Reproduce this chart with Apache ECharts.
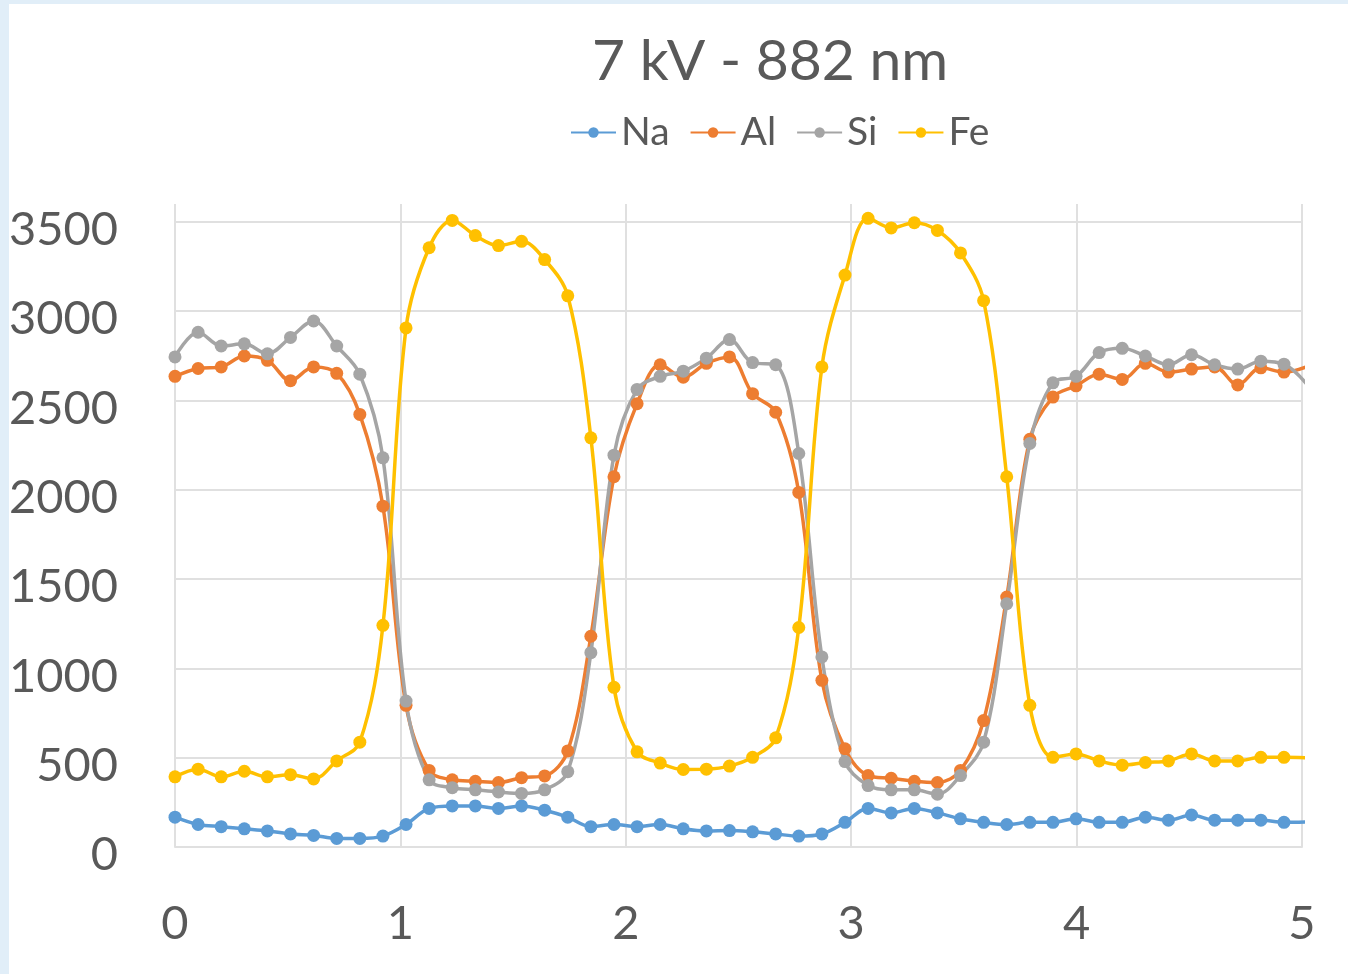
<!DOCTYPE html>
<html>
<head>
<meta charset="utf-8">
<script src="https://cdn.jsdelivr.net/npm/echarts@6/dist/echarts.min.js"></script>
<style>
  html, body { margin: 0; padding: 0; background: #e1eef8; }
  #wrap { position: absolute; left: 9px; top: 4px; width: 1339px; height: 970px; background: #ffffff; }
  #chart { position: absolute; left: -9px; top: -4px; width: 1348px; height: 974px; }
</style>
</head>
<body>
<div id="wrap"><div id="chart"></div></div>
<script>
const title = '7 kV - 882 nm';
const seriesNames = ['Na', 'Al', 'Si', 'Fe'];
const colors = ['#5B9BD5', '#ED7D31', '#A5A5A5', '#FFC000'];
const xTickLabels = ['0', '1', '2', '3', '4', '5'];
const yTickLabels = ['0', '500', '1000', '1500', '2000', '2500', '3000', '3500'];

const positions = [0,0.1025,0.205,0.3075,0.41,0.5125,0.615,0.7175,0.82,0.9225,
  1.025,1.1275,1.23,1.3325,1.435,1.5375,1.64,1.7425,1.845,1.9475,
  2.05,2.1525,2.255,2.3575,2.46,2.5625,2.665,2.7675,2.87,2.9725,
  3.075,3.1775,3.28,3.3825,3.485,3.5875,3.69,3.7925,3.895,3.9975,
  4.1,4.2025,4.305,4.4075,4.51,4.6125,4.715,4.8175,4.92,5.0225];

const na = [167,126,114,102,90,73,65,48,48,61,
  126,216,230,230,216,230,206,167,114,126,
  114,126,102,90,92,85,73,61,73,138,
  216,191,216,191,158,138,126,138,138,158,
  138,138,167,150,179,150,150,150,138,140];
const al = [2635,2679,2688,2749,2725,2611,2688,2652,2422,1908,
  793,429,376,368,361,388,398,538,1180,2073,
  2482,2700,2630,2708,2744,2538,2434,1985,933,550,
  400,385,368,361,429,708,1399,2283,2519,2582,
  2647,2618,2708,2659,2676,2688,2587,2683,2659,2690];
const si = [2744,2882,2805,2817,2761,2853,2945,2805,2647,2179,
  817,376,332,320,308,300,320,422,1088,2194,
  2562,2635,2664,2737,2841,2712,2700,2203,1064,478,
  344,320,320,296,400,587,1362,2259,2599,2635,
  2768,2792,2749,2700,2756,2700,2676,2720,2703,2590];
const fe = [393,436,393,424,393,405,381,482,587,1241,
  2906,3355,3508,3423,3367,3391,3289,3086,2291,894,
  533,470,434,436,453,502,611,1229,2688,3202,
  3520,3466,3495,3452,3326,3059,2073,793,502,521,
  482,458,473,482,521,482,482,502,502,500];

const values = [na, al, si, fe];
const FONT = 'Lato';
const textColor = '#595959';
const gridColor = '#e0e0e0';

const chart = echarts.init(document.getElementById('chart'), null, { renderer: 'canvas' });

const series = seriesNames.map((name, i) => ({
  name: name,
  type: 'line',
  smooth: 0.35,
  symbol: 'circle',
  symbolSize: 13,
  showSymbol: true,
  clip: true,
  itemStyle: { color: colors[i] },
  lineStyle: { color: colors[i], width: 3.5 },
  emphasis: { disabled: true },
  data: positions.map((x, k) => [x, values[i][k]])
}));

chart.setOption({
  animation: false,
  backgroundColor: 'transparent',
  title: {
    text: title,
    left: 587,
    top: 28,
    textStyle: { fontFamily: FONT, fontSize: 57, fontWeight: 'normal', color: textColor }
  },
  legend: {
    data: seriesNames,
    left: 565,
    top: 108,
    itemWidth: 45,
    itemHeight: 13,
    itemGap: 20,
    textStyle: { fontFamily: FONT, fontSize: 39, color: textColor }
  },
  grid: { left: 175, right: 46, top: 204, bottom: 127, containLabel: false },
  xAxis: {
    type: 'value',
    min: 0,
    max: 5,
    interval: 1,
    axisLine: { show: true, lineStyle: { color: gridColor, width: 2 } },
    axisTick: { show: false },
    splitLine: { show: true, lineStyle: { color: gridColor, width: 2 } },
    axisLabel: {
      margin: 53,
      fontFamily: FONT, fontSize: 47, color: textColor,
      formatter: v => xTickLabels[Math.round(v)] ?? ''
    }
  },
  yAxis: {
    type: 'value',
    min: 0,
    max: 3600,
    interval: 500,
    axisLine: { show: false },
    axisTick: { show: false },
    splitLine: { show: true, showMaxLine: false, lineStyle: { color: gridColor, width: 2 } },
    axisLabel: {
      margin: 57,
      showMaxLabel: false,
      fontFamily: FONT, fontSize: 47, color: textColor,
      formatter: v => {
        const t = yTickLabels[Math.round(v / 500)];
        return t === undefined ? '' : '{a|' + t + '}';
      },
      rich: {
        a: { fontFamily: FONT, fontSize: 47, color: textColor, padding: [16, 0, 0, 0] }
      }
    }
  },
  series: series
});
</script>
</body>
</html>
